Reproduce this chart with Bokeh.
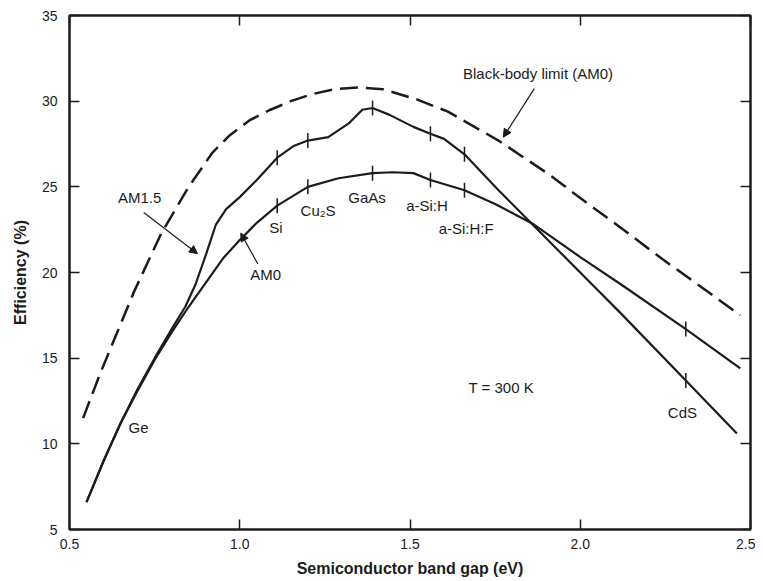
import numpy as np
from bokeh.plotting import figure
from bokeh.models import (Range1d, LinearAxis, FixedTicker, PrintfTickFormatter,
                          Arrow, NormalHead, Label, ColumnDataSource, CustomLabelingPolicy)
from bokeh.embed import file_html
from bokeh.resources import INLINE

# ---------------- data ----------------
bb_gap = [0.54, 0.59, 0.64, 0.69, 0.77, 0.85, 0.92, 0.97, 1.03, 1.09, 1.15, 1.21, 1.28,
          1.35, 1.42, 1.52, 1.61, 1.76, 1.91, 2.01, 2.12, 2.24, 2.38, 2.47]
bb_eff = [11.5, 14.1, 16.5, 18.9, 22.3, 25.0, 27.0, 28.0, 28.9, 29.5, 30.0, 30.4, 30.7,
          30.8, 30.7, 30.1, 29.4, 27.7, 25.7, 24.2, 22.6, 20.8, 18.8, 17.5]

am15_gap = [0.55, 0.60, 0.65, 0.70, 0.75, 0.80, 0.84, 0.87, 0.90, 0.93, 0.96, 1.00, 1.05,
            1.11, 1.16, 1.20, 1.26, 1.32, 1.36, 1.39, 1.44, 1.51, 1.56, 1.60, 1.66,
            1.76, 1.86, 1.94, 2.04, 2.12, 2.31, 2.46]
am15_eff = [6.6, 9.0, 11.2, 13.2, 15.0, 16.7, 18.0, 19.3, 21.0, 22.8, 23.7, 24.4, 25.4,
            26.7, 27.4, 27.7, 27.9, 28.7, 29.5, 29.6, 29.2, 28.5, 28.1, 27.8, 26.9,
            24.8, 22.8, 21.2, 19.2, 17.6, 13.7, 10.6]

am0_gap = [0.55, 0.60, 0.65, 0.70, 0.75, 0.80, 0.85, 0.90, 0.95, 1.00, 1.05, 1.11,
           1.20, 1.29, 1.39, 1.45, 1.51, 1.56, 1.66, 1.75, 1.86, 2.00, 2.12, 2.31, 2.47]
am0_eff = [6.6, 9.0, 11.2, 13.1, 14.9, 16.5, 18.0, 19.4, 20.8, 21.9, 22.9, 23.9,
           25.0, 25.5, 25.8, 25.85, 25.8, 25.4, 24.8, 24.0, 22.85, 20.9, 19.3, 16.7, 14.4]

material_gap = [1.11, 1.20, 1.39, 1.56, 1.66, 2.31]

x_ticks = [0.5, 1.0, 1.5, 2.0, 2.5]
y_ticks = [5, 10, 15, 20, 25, 30, 35]

# ---------------- figure ----------------
FONT = "Liberation Sans"
INK = "#1c1c1c"

p = figure(width=755, height=581, output_backend="svg", toolbar_location=None,
           x_range=Range1d(0.5, 2.5), y_range=Range1d(5, 35),
           min_border_left=69, min_border_top=15, min_border_right=5,
           min_border_bottom=52, x_axis_location="below", y_axis_location="left")
p.xgrid.visible = False
p.ygrid.visible = False
p.outline_line_color = INK
p.outline_line_width = 2
p.background_fill_color = "white"
p.border_fill_color = "white"

for ax in (p.xaxis[0], p.yaxis[0]):
    ax.major_tick_in = 10
    ax.major_tick_out = 0
    ax.minor_tick_in = 0
    ax.minor_tick_out = 0
    ax.axis_line_color = INK
    ax.axis_line_width = 2
    ax.major_tick_line_color = INK
    ax.major_tick_line_width = 1.5
    ax.major_label_text_font = FONT
    ax.major_label_text_font_size = "14px"
    ax.major_label_text_color = INK
    ax.axis_label_text_font = FONT
    ax.axis_label_text_font_size = "16px"
    ax.axis_label_text_font_style = "bold"
    ax.axis_label_text_color = INK

p.xaxis[0].ticker = FixedTicker(ticks=x_ticks)
p.xaxis[0].formatter = PrintfTickFormatter(format="%.1f")
p.xaxis[0].axis_label = "Semiconductor band gap (eV)"
p.xaxis[0].major_label_standoff = 9
p.xaxis[0].axis_label_standoff = 8

p.yaxis[0].ticker = FixedTicker(ticks=y_ticks)
p.yaxis[0].formatter = PrintfTickFormatter(format="%d")
p.yaxis[0].axis_label = "Efficiency (%)"
p.yaxis[0].major_label_standoff = 12
p.yaxis[0].axis_label_standoff = 10

no_labels = """
for (const i of Array.from(indices)) { indices.unset(i) }
return indices
"""

def frame_axis(ticks):
    return LinearAxis(ticker=FixedTicker(ticks=ticks), major_tick_in=10, major_tick_out=0,
                      minor_tick_in=0, minor_tick_out=0,
                      major_label_policy=CustomLabelingPolicy(code=no_labels),
                      major_label_text_font_size="1px", axis_label_standoff=0,
                      major_label_standoff=0, axis_line_color=INK, axis_line_width=2,
                      major_tick_line_color=INK, major_tick_line_width=1.5)

p.add_layout(frame_axis(x_ticks), "above")
p.add_layout(frame_axis(y_ticks), "right")

# ---------------- curves ----------------
p.line(bb_gap, bb_eff, line_color=INK, line_width=2.5, line_dash="18 8")
p.line(am15_gap, am15_eff, line_color=INK, line_width=2.2)
p.line(am0_gap, am0_eff, line_color=INK, line_width=2.2)

# material tick marks on both curves
mg = np.array(material_gap)
tick_src = ColumnDataSource(dict(
    x=np.concatenate([mg, mg]),
    y=np.concatenate([np.interp(mg, am15_gap, am15_eff), np.interp(mg, am0_gap, am0_eff)]),
))
p.scatter("x", "y", source=tick_src, marker="dash", angle=np.pi / 2, size=15,
          line_color=INK, line_width=1.5)

# ---------------- annotations ----------------
def lab(x, y, t, size="15px"):
    p.add_layout(Label(x=x, y=y, text=t, text_font=FONT, text_font_size=size,
                       text_color=INK, text_align="center", text_baseline="middle"))

lab(1.876, 31.6, "Black-body limit (AM0)")
lab(0.706, 24.4, "AM1.5")
lab(1.076, 19.9, "AM0")
lab(0.703, 10.95, "Ge")
lab(1.106, 22.6, "Si")
lab(1.23, 23.6, "Cu\u2082S")
lab(1.374, 24.4, "GaAs")
lab(1.55, 23.9, "a-Si:H")
lab(1.665, 22.56, "a-Si:H:F")
lab(1.768, 13.3, "T = 300 K")
lab(2.30, 11.8, "CdS")

for (x0, y0, x1, y1) in [(1.865, 30.73, 1.774, 27.9),
                         (0.718, 23.5, 0.876, 21.1),
                         (1.053, 20.5, 1.003, 22.3)]:
    p.add_layout(Arrow(x_start=x0, y_start=y0, x_end=x1, y_end=y1, line_color=INK,
                       line_width=1.2,
                       end=NormalHead(size=8, fill_color=INK, line_color=INK)))

open("out.html", "w").write(file_html(p, INLINE))
